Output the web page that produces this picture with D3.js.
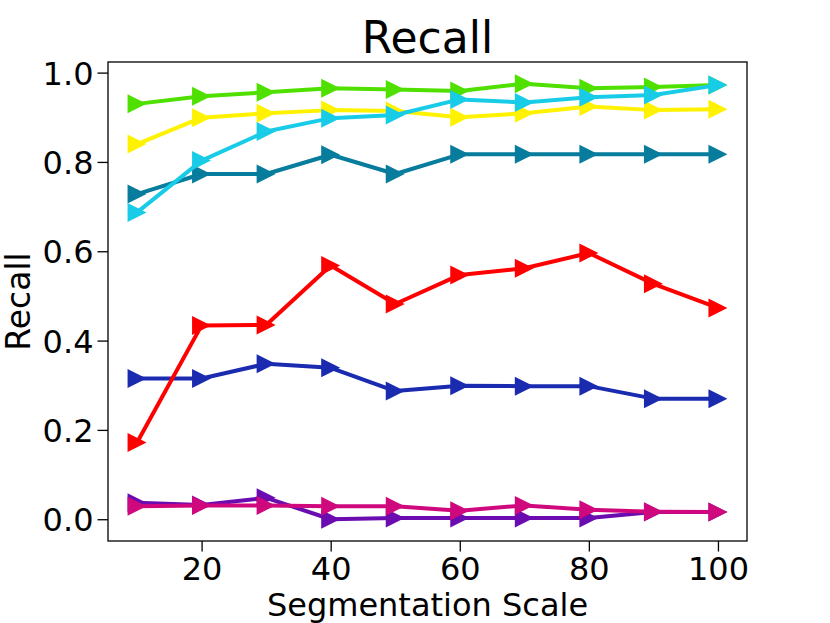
<!DOCTYPE html>
<html>
<head>
<meta charset="utf-8">
<script src="https://cdn.jsdelivr.net/npm/d3@7"></script>
<style>
  body { margin: 0; background: white; }
  text { font-family: "DejaVu Sans", sans-serif; fill: black; }
</style>
</head>
<body>
<div id="recall-chart"></div>
<script>
// Data
const scales = [10, 20, 30, 40, 50, 60, 70, 80, 90, 100];

const blueRecall    = [0.315, 0.315, 0.348, 0.339, 0.287, 0.299, 0.298, 0.298, 0.270, 0.270];
const redRecall     = [0.172, 0.434, 0.435, 0.568, 0.482, 0.547, 0.562, 0.596, 0.527, 0.473];
const greenRecall   = [0.930, 0.947, 0.956, 0.965, 0.962, 0.959, 0.975, 0.965, 0.968, 0.972];
const yellowRecall  = [0.840, 0.899, 0.909, 0.916, 0.914, 0.900, 0.909, 0.924, 0.916, 0.918];
const tealRecall    = [0.728, 0.773, 0.773, 0.816, 0.773, 0.817, 0.817, 0.817, 0.817, 0.817];
const cyanRecall    = [0.687, 0.803, 0.868, 0.898, 0.905, 0.940, 0.933, 0.945, 0.950, 0.972];
const purpleRecall  = [0.037, 0.032, 0.048, 0.000, 0.003, 0.003, 0.003, 0.003, 0.016, 0.016];
const magentaRecall = [0.029, 0.031, 0.031, 0.029, 0.029, 0.019, 0.031, 0.021, 0.017, 0.016];

const seriesNames  = ["blue", "red", "green", "yellow", "teal", "cyan", "purple", "magenta"];
const seriesValues = [blueRecall, redRecall, greenRecall, yellowRecall, tealRecall, cyanRecall, purpleRecall, magentaRecall];
const seriesColors = ["#1a2bb0", "#ff0000", "#50e000", "#fff200", "#077c9c", "#18cce8", "#6a0cb0", "#d0087e"];

const xTicks = [20, 40, 60, 80, 100];
const yTicks = [0.0, 0.2, 0.4, 0.6, 0.8, 1.0];

const margin = { top: 62, right: 83, bottom: 82, left: 108 },
    width = 830 - margin.left - margin.right,
    height = 623 - margin.top - margin.bottom;

const svg = d3.select("#recall-chart")
    .append("svg")
    .attr("width", 830)
    .attr("height", 623)
    .append("g")
    .attr("transform", `translate(${margin.left},${margin.top})`);

// matplotlib style 5% margins around the data
const x = d3.scaleLinear()
    .domain([5.5, 104.5])
    .range([0, width]);

const y = d3.scaleLinear()
    .domain([-0.04875, 1.02375])
    .range([height, 0]);

// right pointing triangle, same width and height
const triangleRight = {
    draw(context, size) {
        const h = Math.sqrt(size) / 2;
        context.moveTo(h, 0);
        context.lineTo(-h, -h);
        context.lineTo(-h, h);
        context.closePath();
    }
};
const marker = d3.symbol(triangleRight, 19 * 19);

const line = d3.line()
    .x((d, i) => x(scales[i]))
    .y(d => y(d));

seriesValues.forEach((vals, k) => {
    const g = svg.append("g").attr("class", "series " + seriesNames[k]);
    g.append("path")
        .datum(vals)
        .attr("fill", "none")
        .attr("stroke", seriesColors[k])
        .attr("stroke-width", 4)
        .attr("stroke-linejoin", "round")
        .attr("d", line);
    g.selectAll("path.marker")
        .data(vals)
        .join("path")
        .attr("class", "marker")
        .attr("transform", (d, i) => `translate(${x(scales[i])},${y(d)})`)
        .attr("fill", seriesColors[k])
        .attr("d", marker);
});

// Axes
const xAxis = svg.append("g")
    .attr("transform", `translate(0,${height})`)
    .call(d3.axisBottom(x).tickValues(xTicks).tickSize(10.5).tickPadding(6).tickFormat(d3.format("d")));
xAxis.selectAll("text").style("font-size", "32px");

const yAxis = svg.append("g")
    .call(d3.axisLeft(y).tickValues(yTicks).tickSize(10.5).tickPadding(4).tickFormat(d3.format(".1f")));
yAxis.selectAll("text").style("font-size", "32px").attr("dy", "0.36em");

[xAxis, yAxis].forEach(a => {
    a.select(".domain").remove();
    a.selectAll("line").attr("stroke", "black").attr("stroke-width", 1.3);
});

// frame
svg.append("rect")
    .attr("width", width)
    .attr("height", height)
    .attr("fill", "none")
    .attr("stroke", "black")
    .attr("stroke-width", 1.3);

// Title
svg.append("text")
    .attr("x", width / 2)
    .attr("y", 52.7 - margin.top)
    .attr("text-anchor", "middle")
    .style("font-size", "44px")
    .text("Recall");

// X axis label
svg.append("text")
    .attr("x", width / 2)
    .attr("y", 616 - margin.top)
    .attr("text-anchor", "middle")
    .style("font-size", "32px")
    .text("Segmentation Scale");

// Y axis label
svg.append("text")
    .attr("transform", "rotate(-90)")
    .attr("x", -height / 2)
    .attr("y", 30 - margin.left)
    .attr("text-anchor", "middle")
    .style("font-size", "33px")
    .text("Recall");
</script>
</body>
</html>
